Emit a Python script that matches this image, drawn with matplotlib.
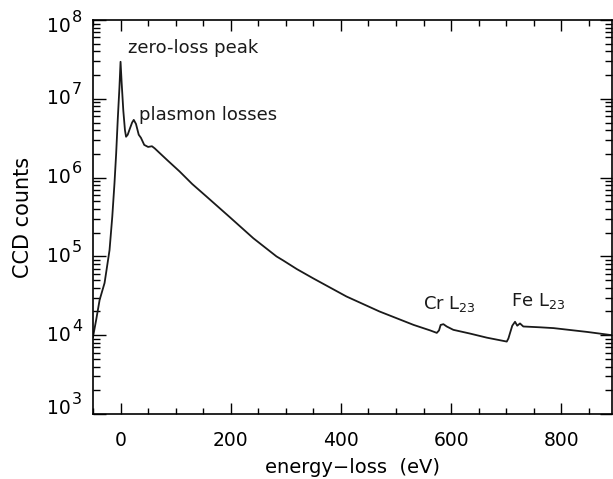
import matplotlib
matplotlib.use("Agg")
import matplotlib.pyplot as plt
import matplotlib.transforms as mtransforms
from matplotlib.ticker import MultipleLocator, LogLocator, NullFormatter

plt.rcParams['font.family'] = ['DejaVu Sans']
plt.rcParams['mathtext.fontset'] = 'dejavusans'

# ---- data ----
energy = [-50, -44, -38, -29, -20, -15, -11, -8, -5, -2, 0, 2, 5, 8, 10, 13, 17, 21, 24, 28,
          33, 37, 43, 50, 57, 62, 71, 85, 107, 130, 156, 198, 241, 283, 295, 320, 350, 410,
          470, 532, 562, 574, 578, 581, 586, 592, 604, 634, 665, 701, 704, 707, 711, 716,
          720, 725, 731, 761, 786, 847, 892]
counts = [9.5e3, 1.6e4, 2.8e4, 4.6e4, 1.2e5, 3.2e5, 8.5e5, 2.0e6, 5.6e6, 1.4e7, 2.95e7,
          1.6e7, 7.1e6, 4.0e6, 3.3e6, 3.5e6, 4.2e6, 5.0e6, 5.4e6, 4.8e6,
          3.5e6, 3.2e6, 2.6e6, 2.45e6, 2.5e6, 2.35e6, 2.05e6, 1.66e6, 1.2e6, 8.3e5, 5.75e5,
          3.16e5, 1.7e5, 1.0e5, 8.9e4, 6.9e4, 5.25e4, 3.1e4,
          2.0e4, 1.35e4, 1.15e4, 1.07e4, 1.15e4, 1.35e4, 1.38e4, 1.29e4, 1.17e4, 1.05e4,
          9.3e3, 8.3e3, 9.1e3, 1.07e4, 1.32e4, 1.48e4,
          1.32e4, 1.41e4, 1.29e4, 1.26e4, 1.23e4, 1.10e4, 1.0e4]
xticks = [0, 200, 400, 600, 800]
ydecades = [3, 4, 5, 6, 7, 8]
annotations = [("zero-loss peak", 13, 4.4e7), ("plasmon losses", 33, 6.3e6),
               (r"Cr L$_{23}$", 549, 2.5e4), (r"Fe L$_{23}$", 709, 2.7e4)]

fig = plt.figure(figsize=(6.13, 4.79), dpi=100)
ax = fig.add_axes([93 / 613, 1 - 414 / 479, (612 - 93) / 613, (414 - 20) / 479])

ax.plot(energy, counts, color='#1a1a1a', lw=1.3)
ax.set_yscale('log')
ax.set_xlim(-50, 892)
ax.set_ylim(1e3, 1e8)

ax.set_xticks(xticks)
ax.xaxis.set_minor_locator(MultipleLocator(50))
ax.yaxis.set_major_locator(LogLocator(base=10, numticks=10))
ax.yaxis.set_minor_locator(LogLocator(base=10, subs=range(2, 10), numticks=20))
ax.yaxis.set_major_formatter(NullFormatter())
ax.yaxis.set_minor_formatter(NullFormatter())

ax.tick_params(axis='both', which='both', direction='in', top=True, right=True, width=1.0)
ax.tick_params(axis='x', which='major', length=8, pad=12, labelsize=13.5)
ax.tick_params(axis='x', which='minor', length=4)
ax.tick_params(axis='y', which='major', length=9)
ax.tick_params(axis='y', which='minor', length=5)
for s in ax.spines.values():
    s.set_linewidth(1.2)

# manual y tick labels 10^n with large exponent
ytrans = ax.get_yaxis_transform()
for e in ydecades:
    dy = 0
    if e == 8:
        dy = -7
    if e == 3:
        dy = 6
    t1 = mtransforms.offset_copy(ytrans, fig=fig, x=-22, y=dy, units='dots')
    t2 = mtransforms.offset_copy(ytrans, fig=fig, x=-21, y=dy + 9, units='dots')
    ax.text(0, 10.0 ** e, "10", transform=t1, ha='right', va='center', fontsize=13.5)
    ax.text(0, 10.0 ** e, str(e), transform=t2, ha='left', va='center', fontsize=11.5)

ax.set_xlabel("energy\u2212loss  (eV)", fontsize=14, labelpad=6)
ax.set_ylabel("CCD counts", fontsize=15, labelpad=40)

for txt, x, y in annotations:
    ax.text(x, y, txt, fontsize=13, ha='left', va='center', color='#1a1a1a')

fig.savefig("out.png", dpi=100)
